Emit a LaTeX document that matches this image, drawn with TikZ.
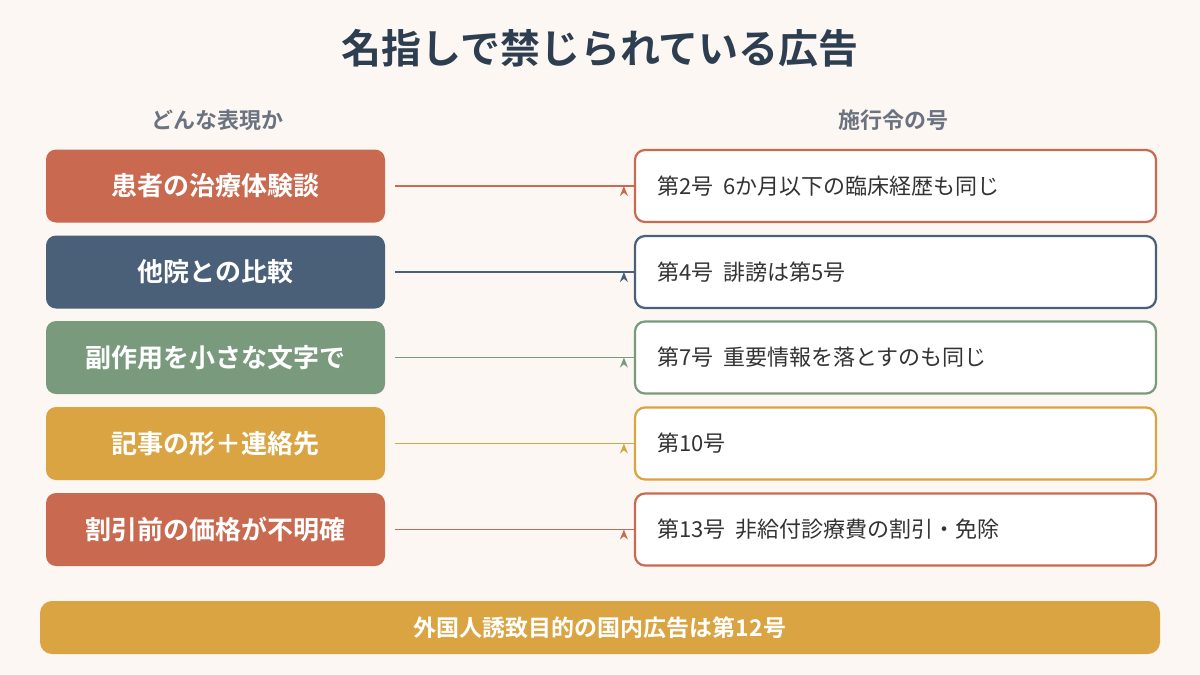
\documentclass[tikz,border=0pt]{standalone}
\usepackage{fontspec}
\setmainfont{Noto Sans CJK JP}[BoldFont={Noto Sans CJK JP Bold}]
\usetikzlibrary{arrows.meta}
\definecolor{bg}{HTML}{FDF7F3}
\definecolor{cA}{HTML}{C96A50}
\definecolor{cB}{HTML}{4A5F78}
\definecolor{cC}{HTML}{7A9A7E}
\definecolor{cD}{HTML}{D9A441}
\definecolor{ttl}{HTML}{2C3E50}
\definecolor{sub}{HTML}{6B7280}
\definecolor{txt}{HTML}{333333}
\begin{document}
\begin{tikzpicture}[x=0.5pt,y=-0.5pt,
 lbox/.style={rounded corners=5pt,minimum width=169.5pt,minimum height=36.5pt,text=white,font=\bfseries\fontsize{13}{15}\selectfont,inner sep=0pt},
 rbox/.style={draw,line width=1.1pt,fill=white,rounded corners=5pt,minimum width=260.5pt,minimum height=36pt,inner sep=0pt},
 rtxt/.style={anchor=west,text=txt,font=\fontsize{11}{13}\selectfont,inner sep=0pt},
 arr/.style={-{Stealth[length=5pt,width=4pt]},line width=0.9pt}]
\useasboundingbox (0,0) rectangle (1200,675);
\fill[bg] (0,0) rectangle (1200,675);
\node[text=ttl,font=\bfseries\fontsize{20}{24}\selectfont] (title) at (600,48) {名指しで禁じられている広告};
\node[text=sub,font=\bfseries\fontsize{11}{13}\selectfont] (h1) at (217,120) {どんな表現か};
\node[text=sub,font=\bfseries\fontsize{11}{13}\selectfont] (h2) at (893,120) {施行令の号};
\foreach \i/\y/\c/\l/\r in {1/186/cA/患者の治療体験談/第2号\ \ 6か月以下の臨床経歴も同じ,
 2/272/cB/他院との比較/第4号\ \ 誹謗は第5号,
 3/357.5/cC/副作用を小さな文字で/第7号\ \ 重要情報を落とすのも同じ,
 4/443.5/cD/記事の形＋連絡先/第10号,
 5/529.5/cA/割引前の価格が不明確/第13号\ \ 非給付診療費の割引・免除}{
 \node[lbox,fill=\c] (L\i) at (215.5,\y) {\l};
 \node[rbox,draw=\c] (R\i) at (895.5,\y) {};
 \node[rtxt] (T\i) at (657,\y) {\r};
 \draw[arr,draw=\c] (395,\y) -- (R\i.west) ++(-10,0);
}
\node[fill=cD,rounded corners=6pt,minimum width=560pt,minimum height=26.5pt,text=white,font=\bfseries\fontsize{11.5}{13}\selectfont,inner sep=0pt] (bar) at (600,627.5) {外国人誘致目的の国内広告は第12号};
\end{tikzpicture}
\end{document}
